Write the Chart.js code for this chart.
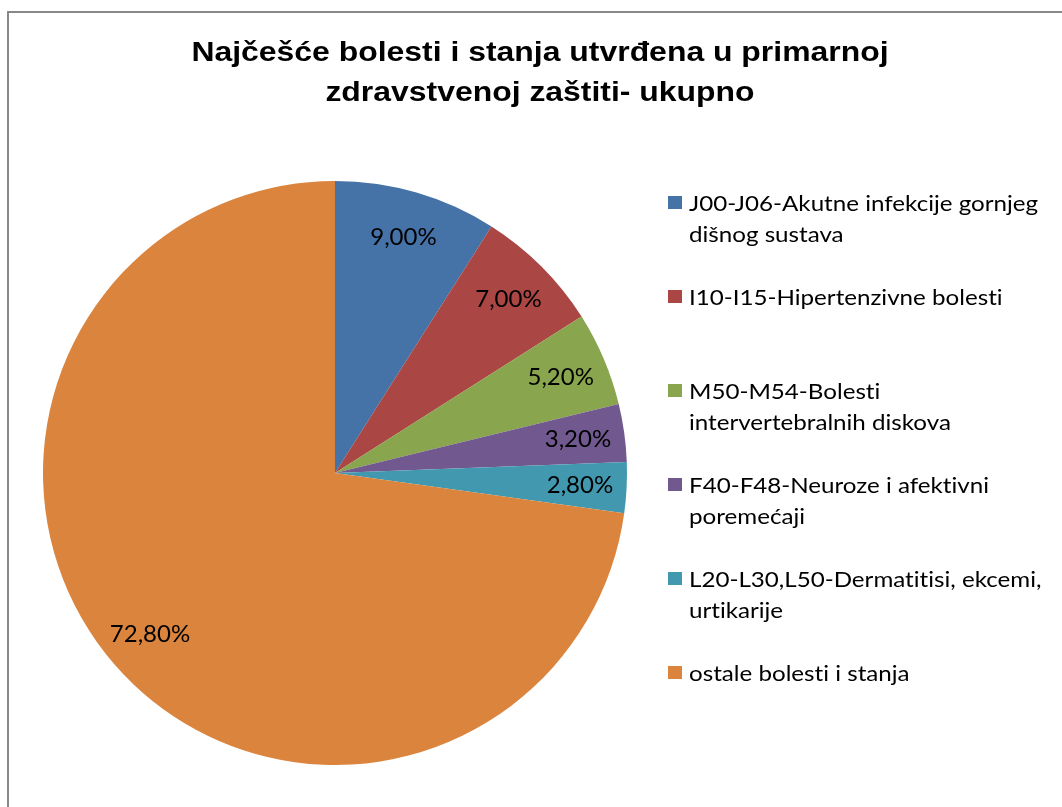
<!DOCTYPE html>
<html>
<head>
<meta charset="utf-8">
<script src="https://cdn.jsdelivr.net/npm/chart.js@4/dist/chart.umd.min.js"></script>
<style>
  html, body { margin: 0; padding: 0; background: #fff; }
  #chart { display: block; }
</style>
</head>
<body>
<canvas id="chart" width="1062" height="807"></canvas>
<script>
const titleLines = ['Najčešće bolesti i stanja utvrđena u primarnoj', 'zdravstvenoj zaštiti- ukupno'];
const categories = [
    ['J00-J06-Akutne infekcije gornjeg', 'dišnog sustava'],
    ['I10-I15-Hipertenzivne bolesti'],
    ['M50-M54-Bolesti', 'intervertebralnih diskova'],
    ['F40-F48-Neuroze i afektivni', 'poremećaji'],
    ['L20-L30,L50-Dermatitisi, ekcemi,', 'urtikarije'],
    ['ostale bolesti i stanja']
];
const shares = [9.0, 7.0, 5.2, 3.2, 2.8, 72.8];
const colors = ['#4572A7', '#AA4643', '#89A54E', '#71588F', '#4198AF', '#DB843D'];

const LABEL_FONT = 'Lato, "Open Sans", sans-serif';

// text drawn a bit wider, like the source picture
function wideText(c, txt, x, y, sx, align) {
    c.save();
    c.translate(x, y);
    c.scale(sx, 1);
    c.textAlign = align;
    c.fillText(txt, 0, 0);
    c.restore();
}

// frame + title
const framePlugin = {
    id: 'frame',
    beforeDraw(chart) {
        const c = chart.ctx;
        c.save();
        c.fillStyle = '#fff';
        c.fillRect(0, 0, chart.width, chart.height);
        c.strokeStyle = '#888';
        c.lineWidth = 2;
        c.strokeRect(8, 12, 1100, 900);
        c.fillStyle = '#000';
        c.font = 'bold 28px "Liberation Sans", Arial, sans-serif';
        c.textBaseline = 'alphabetic';
        wideText(c, titleLines[0], 540, 61, 1.14, 'center');
        wideText(c, titleLines[1], 540, 101, 1.14, 'center');
        c.restore();
    }
};

// percent labels inside slices
const valuePlugin = {
    id: 'values',
    afterDatasetsDraw(chart) {
        const c = chart.ctx;
        const meta = chart.getDatasetMeta(0);
        c.save();
        c.fillStyle = '#000';
        c.font = '24px ' + LABEL_FONT;
        c.textRendering = 'optimizeSpeed';
        c.textAlign = 'center';
        c.textBaseline = 'middle';
        meta.data.forEach((arc, i) => {
            const p = arc.getProps(['x', 'y', 'startAngle', 'endAngle', 'outerRadius']);
            const mid = (p.startAngle + p.endAngle) / 2;
            const d = p.outerRadius * 0.84;
            const txt = shares[i].toFixed(2).replace('.', ',') + '%';
            c.fillText(txt, p.x + Math.cos(mid) * d, p.y + Math.sin(mid) * d);
        });
        c.restore();
    }
};

// legend on the right, wrapped labels
const legendPlugin = {
    id: 'sideLegend',
    afterDraw(chart) {
        const c = chart.ctx;
        c.save();
        c.font = '21px ' + LABEL_FONT;
        c.textRendering = 'optimizeSpeed';
        c.textBaseline = 'alphabetic';
        categories.forEach((lines, i) => {
            const y = 211 + i * 94;
            c.fillStyle = colors[i];
            c.fillRect(668, y - 15, 14, 13);
            c.fillStyle = '#000';
            lines.forEach((ln, j) => wideText(c, ln, 689, y + j * 31, 1.15, 'left'));
        });
        c.restore();
    }
};

const ctx = document.querySelector('#chart').getContext('2d');
const chart = new Chart(ctx, {
    type: 'pie',
    data: {
        labels: categories,
        datasets: [{
            data: shares,
            backgroundColor: colors,
            borderWidth: 0
        }]
    },
    options: {
        responsive: false,
        animation: false,
        layout: {
            padding: { left: 43, right: 435, top: 181, bottom: 42 }
        },
        plugins: {
            legend: { display: false },
            title: { display: false },
            tooltip: { enabled: false }
        }
    },
    plugins: [framePlugin, valuePlugin, legendPlugin]
});
</script>
</body>
</html>
